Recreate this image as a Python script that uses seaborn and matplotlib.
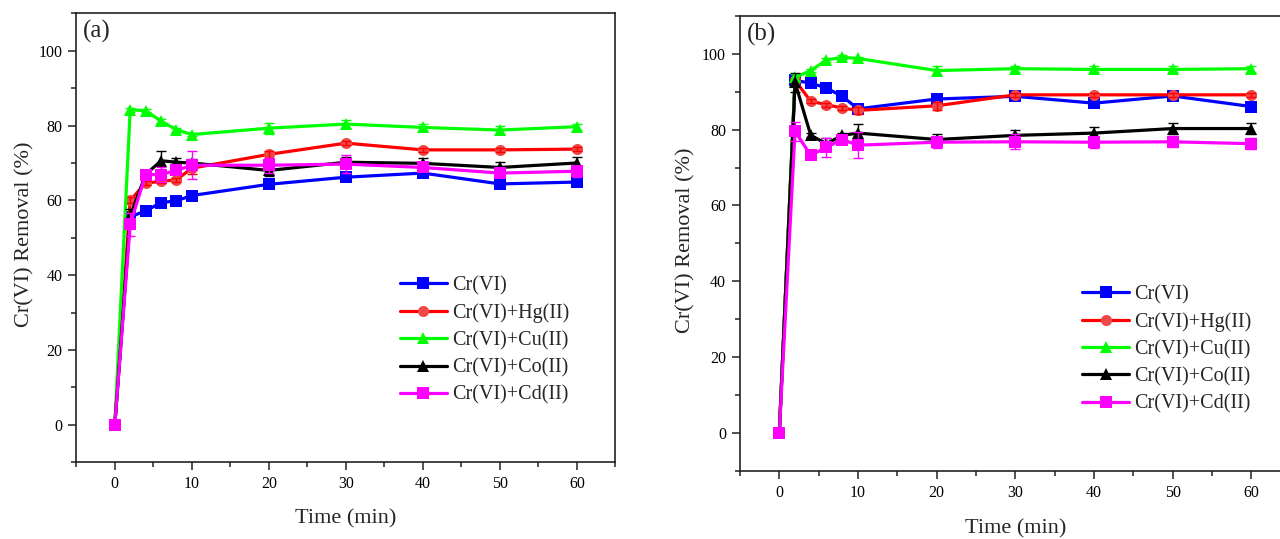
import matplotlib.pyplot as plt
import pandas as pd
import seaborn as sns
from matplotlib.ticker import MultipleLocator

# time points (min)
time_min = [0, 2, 4, 6, 8, 10, 20, 30, 40, 50, 60]
series_names = ["Cr(VI)", "Cr(VI)+Hg(II)", "Cr(VI)+Cu(II)", "Cr(VI)+Co(II)", "Cr(VI)+Cd(II)"]

# panel (a) removal (%)
a_cr = [0, 55.6, 57.2, 59.4, 59.9, 61.3, 64.3, 66.2, 67.3, 64.4, 64.9]
a_hg = [0, 60.0, 64.6, 65.1, 65.5, 68.6, 72.3, 75.3, 73.5, 73.5, 73.7]
a_cu = [0, 84.2, 84.0, 81.2, 78.9, 77.6, 79.3, 80.4, 79.5, 78.8, 79.7]
a_co = [0, 55.8, 66.9, 70.6, 70.2, 70.0, 68.0, 70.2, 69.9, 68.8, 70.0]
a_cd = [0, 53.6, 66.9, 66.9, 68.0, 69.4, 69.4, 69.7, 68.8, 67.3, 67.8]
a_cr_err = [0, 1.0, 0.5, 0.5, 0.5, 0.8, 0.8, 0.8, 1.0, 1.0, 1.0]
a_hg_err = [0, 0.8, 0.5, 0.5, 0.5, 1.5, 1.0, 0.5, 0.5, 0.5, 0.5]
a_cu_err = [0, 0.5, 0.5, 0.5, 0.5, 0.5, 1.5, 1.0, 1.0, 1.0, 0.8]
a_co_err = [0, 2.0, 1.0, 2.5, 1.0, 1.0, 1.5, 1.5, 1.5, 1.5, 1.5]
a_cd_err = [0, 3.0, 1.0, 2.0, 1.0, 3.8, 2.0, 2.5, 1.0, 1.0, 1.5]

# panel (b) removal (%)
b_cr = [0, 93.0, 92.3, 91.0, 88.8, 85.5, 88.1, 88.8, 87.0, 88.9, 86.1]
b_hg = [0, 93.0, 87.5, 86.6, 85.7, 85.1, 86.3, 89.2, 89.2, 89.2, 89.2]
b_cu = [0, 93.8, 95.6, 98.4, 99.1, 98.8, 95.6, 96.1, 95.9, 95.9, 96.1]
b_co = [0, 92.5, 78.5, 76.3, 78.5, 79.1, 77.4, 78.5, 79.1, 80.3, 80.3]
b_cd = [0, 79.6, 73.2, 75.4, 77.4, 75.9, 76.7, 76.8, 76.7, 76.8, 76.3]
b_cr_err = [0, 1.5, 0.5, 0.5, 0.5, 0.5, 0.5, 0.5, 0.5, 0.5, 0.5]
b_hg_err = [0, 0.5, 0.5, 0.5, 0.5, 1.0, 1.0, 0.5, 0.5, 0.5, 0.5]
b_cu_err = [0, 1.0, 0.5, 0.5, 0.5, 0.5, 1.2, 0.8, 0.8, 0.8, 0.8]
b_co_err = [0, 2.5, 0.5, 1.5, 0.5, 2.5, 1.5, 1.5, 1.5, 1.5, 1.5]
b_cd_err = [0, 2.5, 0.5, 2.5, 0.5, 3.5, 1.5, 2.0, 1.5, 1.5, 1.5]

line_colors = ["#0000ff", "#ff0000", "#00ff00", "#000000", "#ff00ff"]
face_colors = ["#0000ff", "#f04848", "#00ff00", "#000000", "#ff00ff"]
markers = ["s", "o", "^", "^", "s"]

sns.set_theme(style="ticks", rc={
    "axes.edgecolor": "#222222",
    "axes.linewidth": 1.2,
    "xtick.major.size": 6,
    "ytick.major.size": 6,
    "xtick.minor.size": 3.5,
    "ytick.minor.size": 3.5,
    "xtick.color": "#222222",
    "ytick.color": "#222222",
    "xtick.labelcolor": "black",
    "ytick.labelcolor": "black",
})
plt.rcParams["font.family"] = ["Liberation Serif", "DejaVu Serif"]


def draw_panel(ax, values, errors, tag, legend_anchor, xlabel_y, ylabel_x):
    for name, vals, errs, lc, fc, mk in zip(series_names, values, errors,
                                             line_colors, face_colors, markers):
        df = pd.DataFrame({"time": time_min, "removal": vals})
        sns.lineplot(data=df, x="time", y="removal", ax=ax, color=lc,
                     marker=mk, markersize=8, markeredgewidth=0,
                     markerfacecolor=fc, linewidth=2.3, label=name,
                     errorbar=None)
        ax.errorbar(time_min, vals, yerr=errs, fmt="none", ecolor=lc,
                    elinewidth=1.0, capsize=3.5, capthick=1.0)

    ax.set_xlim(-5, 65)
    ax.set_ylim(-10, 110)
    ax.xaxis.set_major_locator(MultipleLocator(10))
    ax.xaxis.set_minor_locator(MultipleLocator(5))
    ax.yaxis.set_major_locator(MultipleLocator(20))
    ax.yaxis.set_minor_locator(MultipleLocator(10))
    ax.tick_params(axis="both", which="major", labelsize=11.5, pad=4, width=1.1)
    ax.tick_params(axis="both", which="minor", width=1.1)

    ax.set_xlabel("Time (min)", fontsize=16)
    ax.set_ylabel("Cr(VI) Removal (%)", fontsize=16)
    ax.xaxis.set_label_coords(0.5, xlabel_y)
    ax.yaxis.set_label_coords(ylabel_x, 0.507)

    ax.text(0.012, 0.96, tag, transform=ax.transAxes, fontsize=18,
            ha="left", va="center")

    ax.legend(loc="upper left", bbox_to_anchor=legend_anchor,
              bbox_transform=ax.figure.transFigure, frameon=False,
              fontsize=14.5, handlelength=2.35, handletextpad=0.25,
              labelspacing=0.4, borderpad=0, borderaxespad=0)


fig = plt.figure(figsize=(12.8, 5.39), dpi=100)
ax_a = fig.add_axes([0.0596, 0.1423, 0.4212, 0.833])
ax_b = fig.add_axes([0.5781, 0.1267, 0.4302, 0.8436])

draw_panel(ax_a, [a_cr, a_hg, a_cu, a_co, a_cd],
           [a_cr_err, a_hg_err, a_cu_err, a_co_err, a_cd_err],
           "(a)", (0.3123, 0.488), -0.104, -0.078)
draw_panel(ax_b, [b_cr, b_hg, b_cu, b_co, b_cd],
           [b_cr_err, b_hg_err, b_cu_err, b_co_err, b_cd_err],
           "(b)", (0.8452, 0.4716), -0.106, -0.080)

fig.savefig("out.png", dpi=100)
